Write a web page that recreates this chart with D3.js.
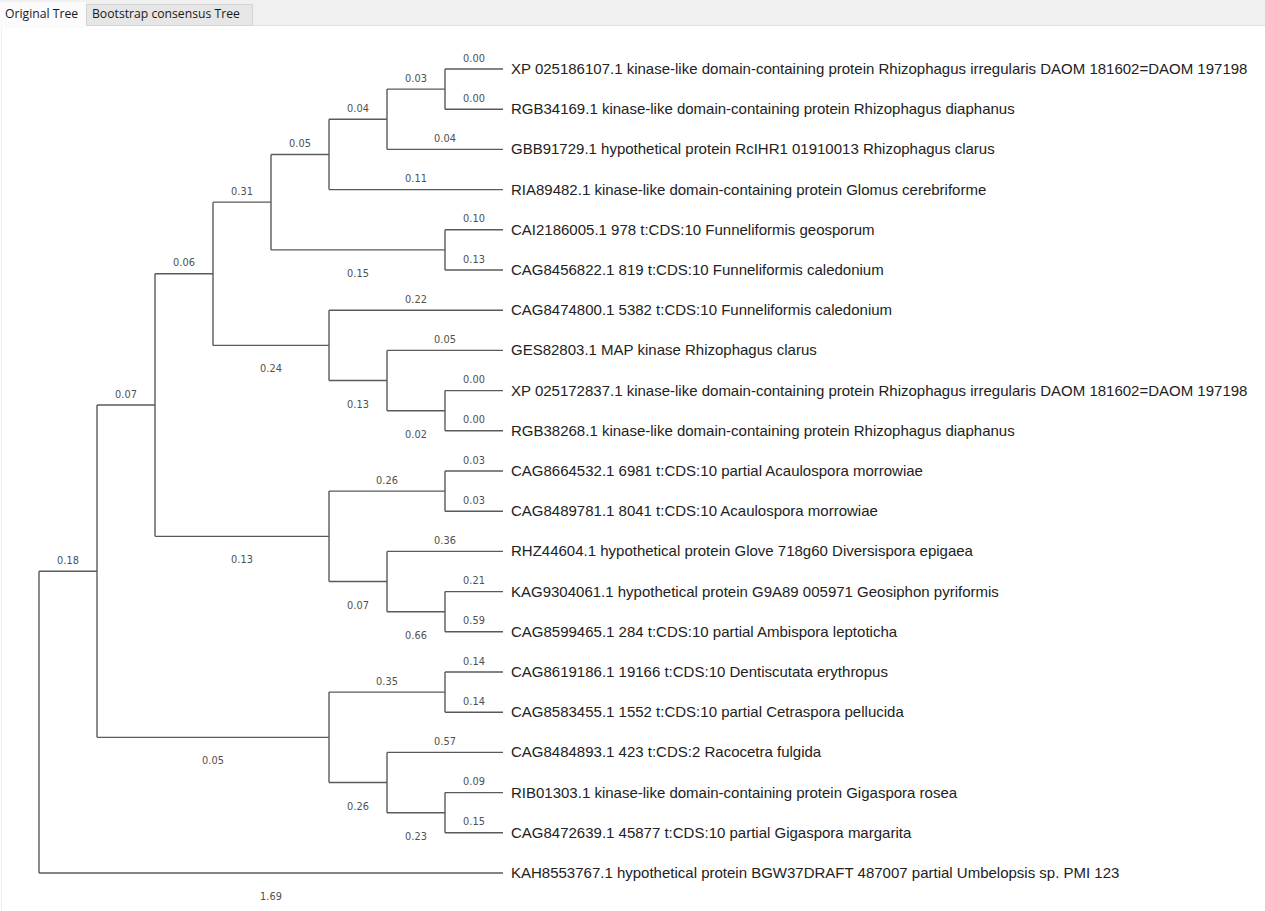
<!DOCTYPE html>
<html>
<head>
<meta charset="utf-8">
<script src="https://cdn.jsdelivr.net/npm/d3@7"></script>
<style>
  html, body { margin: 0; padding: 0; background: #ffffff; }
  svg { display: block; }
</style>
</head>
<body>
<svg id="chart" width="1265" height="911"></svg>
<script>
// ---- Data ----
const tabLabels = ["Original Tree", "Bootstrap consensus Tree"];

// internal nodes: id, parent, branch length
const nodeIds     = ["R", "N1", "N2", "N3", "N4", "N5", "N5a", "N5b", "N6", "N7", "N8", "N8a", "N9", "N10", "N11", "N12", "N13", "N14", "N15", "N16"];
const nodeParents = [null, "R", "N1", "N2", "N3", "N4", "N5", "N5a", "N4", "N3", "N7", "N8", "N2", "N9", "N9", "N11", "N1", "N13", "N13", "N15"];
const nodeLengths = [null, 0.18, 0.07, 0.06, 0.31, 0.05, 0.04, 0.03, 0.15, 0.24, 0.13, 0.02, 0.13, 0.26, 0.07, 0.66, 0.05, 0.35, 0.26, 0.23];

// tips (top to bottom): label, parent, branch length
const tipLabels = [
  "XP 025186107.1 kinase-like domain-containing protein Rhizophagus irregularis DAOM 181602=DAOM 197198",
  "RGB34169.1 kinase-like domain-containing protein Rhizophagus diaphanus",
  "GBB91729.1 hypothetical protein RcIHR1 01910013 Rhizophagus clarus",
  "RIA89482.1 kinase-like domain-containing protein Glomus cerebriforme",
  "CAI2186005.1 978 t:CDS:10 Funneliformis geosporum",
  "CAG8456822.1 819 t:CDS:10 Funneliformis caledonium",
  "CAG8474800.1 5382 t:CDS:10 Funneliformis caledonium",
  "GES82803.1 MAP kinase Rhizophagus clarus",
  "XP 025172837.1 kinase-like domain-containing protein Rhizophagus irregularis DAOM 181602=DAOM 197198",
  "RGB38268.1 kinase-like domain-containing protein Rhizophagus diaphanus",
  "CAG8664532.1 6981 t:CDS:10 partial Acaulospora morrowiae",
  "CAG8489781.1 8041 t:CDS:10 Acaulospora morrowiae",
  "RHZ44604.1 hypothetical protein Glove 718g60 Diversispora epigaea",
  "KAG9304061.1 hypothetical protein G9A89 005971 Geosiphon pyriformis",
  "CAG8599465.1 284 t:CDS:10 partial Ambispora leptoticha",
  "CAG8619186.1 19166 t:CDS:10 Dentiscutata erythropus",
  "CAG8583455.1 1552 t:CDS:10 partial Cetraspora pellucida",
  "CAG8484893.1 423 t:CDS:2 Racocetra fulgida",
  "RIB01303.1 kinase-like domain-containing protein Gigaspora rosea",
  "CAG8472639.1 45877 t:CDS:10 partial Gigaspora margarita",
  "KAH8553767.1 hypothetical protein BGW37DRAFT 487007 partial Umbelopsis sp. PMI 123"
];
const tipParents = ["N5b", "N5b", "N5a", "N5", "N6", "N6", "N7", "N8", "N8a", "N8a", "N10", "N10", "N11", "N12", "N12", "N14", "N14", "N15", "N16", "N16", "R"];
const tipLengths = [0.00, 0.00, 0.04, 0.11, 0.10, 0.13, 0.22, 0.05, 0.00, 0.00, 0.03, 0.03, 0.36, 0.21, 0.59, 0.14, 0.14, 0.57, 0.09, 0.15, 1.69];

// ---- Build hierarchy ----
const rows = [];
nodeIds.forEach((id, i) => rows.push({ id, parent: nodeParents[i], length: nodeLengths[i], tip: false, order: -1 }));
tipLabels.forEach((t, i) => rows.push({ id: "T" + i, parent: tipParents[i], length: tipLengths[i], tip: true, label: t, order: i }));

const root = d3.stratify().id(d => d.id).parentId(d => d.parent)(rows);
root.eachAfter(n => {
  n.minTip = n.data.tip ? n.data.order : d3.min(n.children, c => c.minTip);
  if (n.children) n.children.sort((a, b) => a.minTip - b.minTip);
});

// ---- Scales ----
const x = d3.scaleLinear().domain([0, root.height]).range([503, 39]);   // by node height (topology only)
const y = d3.scaleLinear().domain([0, tipLabels.length - 1]).range([69, 873]);

root.eachAfter(n => {
  n.px = x(n.height);
  if (n.data.tip) n.py = y(n.data.order);
  else n.py = (n.children[0].py + n.children[n.children.length - 1].py) / 2;
});

const svg = d3.select("#chart");

// ---- Tab bar ----
svg.append("rect").attr("x", 0).attr("y", 0).attr("width", 1265).attr("height", 25).attr("fill", "#f0f0f0");
svg.append("line").attr("x1", 0).attr("x2", 1265).attr("y1", 25.5).attr("y2", 25.5).attr("stroke", "#e2e2e2");
svg.append("rect").attr("x", 86.5).attr("y", 4.5).attr("width", 166).attr("height", 21).attr("fill", "#e6e6e6").attr("stroke", "#d4d4d4");
svg.append("rect").attr("x", 0).attr("y", 2).attr("width", 86).attr("height", 26).attr("fill", "#fbfbfb");
const tabX = [5, 92];
svg.selectAll("text.tab").data(tabLabels).join("text")
  .attr("class", "tab")
  .attr("x", (d, i) => tabX[i]).attr("y", 18)
  .attr("font-family", "Open Sans, Liberation Sans, Arial, sans-serif")
  .attr("font-size", 12.2)
  .attr("fill", "#1a1a1a")
  .text(d => d);
svg.append("line").attr("x1", 1.5).attr("x2", 1.5).attr("y1", 28).attr("y2", 911).attr("stroke", "#eeeeee");

// ---- Branches ----
const g = svg.append("g");
const links = root.links();
g.selectAll("line.h").data(links).join("line")
  .attr("class", "h")
  .attr("x1", d => d.source.px).attr("x2", d => d.target.px)
  .attr("y1", d => d.target.py).attr("y2", d => d.target.py)
  .attr("stroke", "#5a5a5a").attr("stroke-width", 1.4);
g.selectAll("line.v").data(root.descendants().filter(n => n.children)).join("line")
  .attr("class", "v")
  .attr("x1", d => d.px).attr("x2", d => d.px)
  .attr("y1", d => d.children[0].py).attr("y2", d => d.children[d.children.length - 1].py)
  .attr("stroke", "#5a5a5a").attr("stroke-width", 1.4);

// ---- Branch length labels ----
function below(l) {
  const sib = l.source.children;
  const isLast = sib[sib.length - 1] === l.target;
  return isLast && (!l.target.data.tip || l.source.depth === 0);
}
g.selectAll("text.bl").data(links).join("text")
  .attr("class", "bl")
  .attr("x", d => (d.source.px + d.target.px) / 2)
  .attr("y", d => below(d) ? d.target.py + 27 : d.target.py - 7.5)
  .attr("text-anchor", "middle")
  .attr("font-family", "DejaVu Sans, Verdana, sans-serif")
  .attr("font-size", 9.8)
  .attr("fill", "#505050")
  .text(d => d3.format(".2f")(d.target.data.length));

// ---- Tip labels ----
g.selectAll("text.tip").data(root.leaves()).join("text")
  .attr("class", "tip")
  .attr("x", d => d.px + 8)
  .attr("y", d => d.py + 5)
  .attr("font-family", "Liberation Sans, Arial, sans-serif")
  .attr("font-size", 15)
  .attr("fill", "#222")
  .text(d => d.data.label);
</script>
</body>
</html>
